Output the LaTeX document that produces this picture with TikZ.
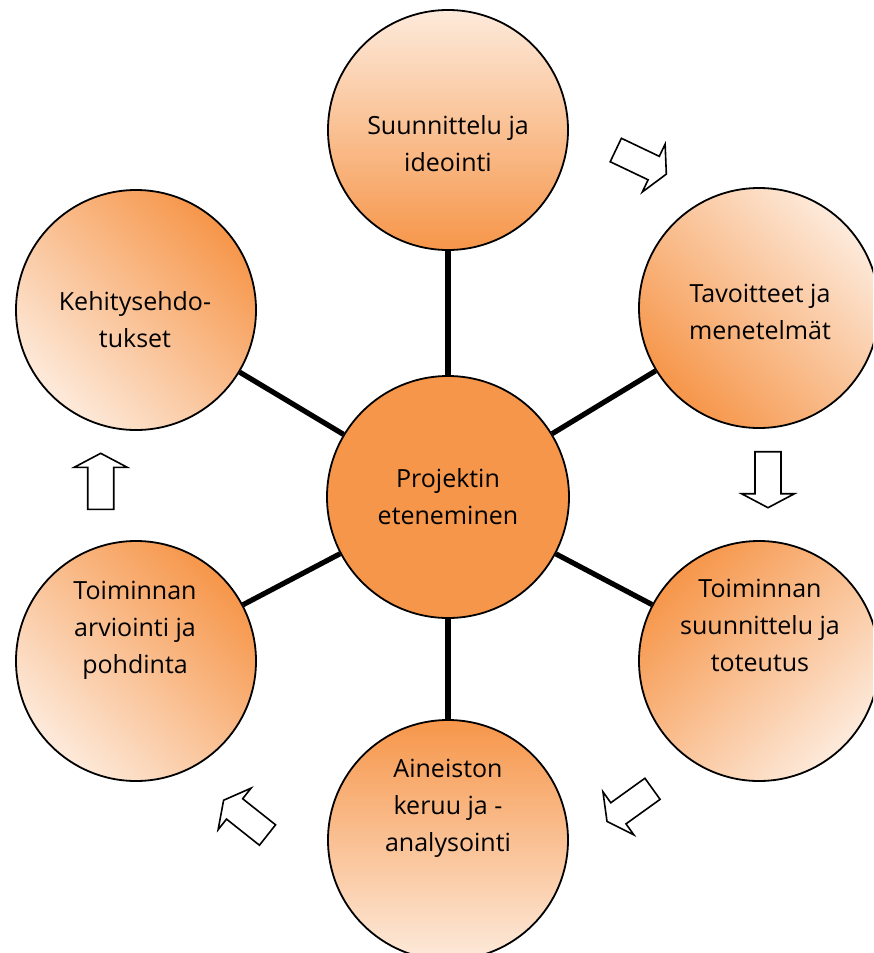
\documentclass[tikz,border=0pt]{standalone}
\usepackage{fontspec}
\setmainfont{Open Sans}
\definecolor{orng}{HTML}{F6964A}
\definecolor{lite}{HTML}{FDEADB}
\newcommand\blockarr[2]{\draw[barrow, shift={#1}, rotate=#2] (0,-13) -- (42,-13) -- (42,-26.5) -- (56,0) -- (42,26.5) -- (42,13) -- (0,13) -- cycle;}
\begin{document}
\begin{tikzpicture}[x=1pt,y=1pt,
  bub/.style={circle, draw=black, line width=1.8pt, minimum size=240pt, inner sep=0pt, top color=lite, bottom color=orng},
  hub/.style={circle, draw=black, line width=1.8pt, minimum size=242pt, inner sep=0pt, fill=orng},
  lbl/.style={align=center, font=\fontsize{25}{37}\selectfont, text=black, inner sep=0pt},
  spoke/.style={line width=5.2pt, draw=black},
  barrow/.style={draw=black, line width=1.6pt, fill=white, line join=miter}]
\useasboundingbox (0,0) rectangle (873,-953);
\clip (0,0) rectangle (873,-953);
% circles
\node[hub] (c) at (448,-497) {};
\node[bub, shading angle=0] (t) at (448,-130) {};
\node[bub, shading angle=-45] (rt) at (759,-308) {};
\node[bub, shading angle=-135] (rb) at (759,-661) {};
\node[bub, shading angle=180] (b) at (448,-840) {};
\node[bub, shading angle=135] (lb) at (136,-661) {};
\node[bub, shading angle=135] (lt) at (136,-310) {};
% spokes
\draw[spoke] (c) -- (t);
\draw[spoke] (c) -- (rt);
\draw[spoke] (c) -- (rb);
\draw[spoke] (c) -- (b);
\draw[spoke] (c) -- (lb);
\draw[spoke] (c) -- (lt);
% labels
\node[lbl] (tc) at (448,-497) {Projektin\\eteneminen};
\node[lbl] (tt) at (448,-144) {Suunnittelu ja\\ideointi};
\node[lbl] (trt) at (760,-312) {Tavoitteet ja\\menetelmät};
\node[lbl] (trb) at (760,-625) {Toiminnan\\suunnittelu ja\\toteutus};
\node[lbl] (tb) at (448,-808) {Aineiston\\keruu ja -\\analysointi};
\node[lbl] (tlb) at (135,-630) {Toiminnan\\arviointi ja\\pohdinta};
\node[lbl] (tlt) at (135,-320) {Kehitysehdo-\\tukset};
% block arrows
\blockarr{(615.8,-150)}{-25.5}
\blockarr{(768,-451.7)}{-90}
\blockarr{(652.5,-788.8)}{-144.3}
\blockarr{(267.5,-835)}{141.6}
\blockarr{(100.7,-509.3)}{90}
\end{tikzpicture}
\end{document}
